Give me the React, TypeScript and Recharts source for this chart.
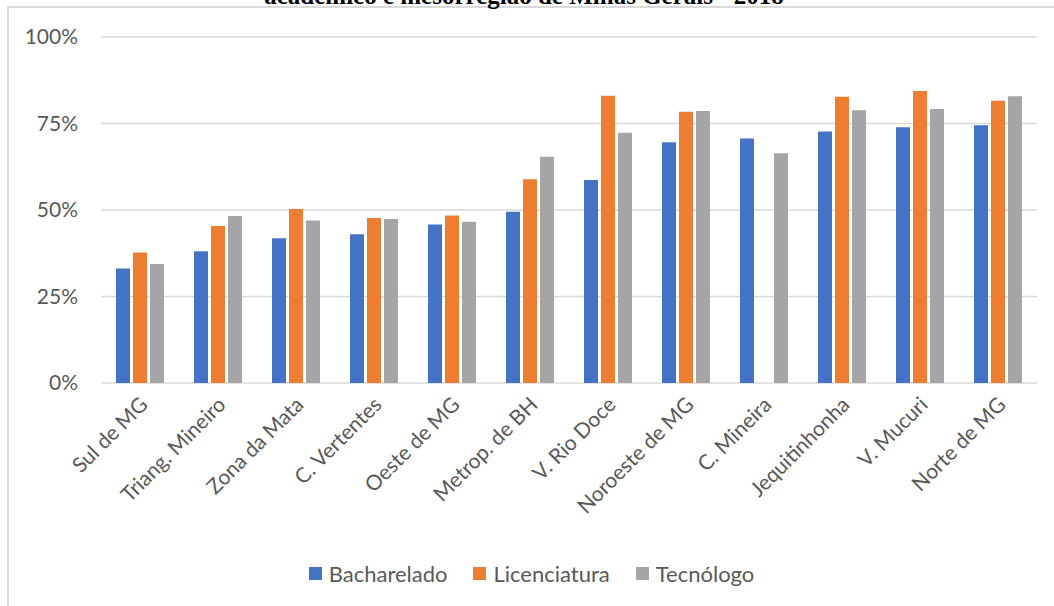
import React from 'react';
import {
    BarChart,
    Bar,
    XAxis,
    YAxis,
    CartesianGrid,
    Legend
} from 'recharts';

const regions = [
    'Sul de MG',
    'Triang. Mineiro',
    'Zona da Mata',
    'C. Vertentes',
    'Oeste de MG',
    'Metrop. de BH',
    'V. Rio Doce',
    'Noroeste de MG',
    'C. Mineira',
    'Jequitinhonha',
    'V. Mucuri',
    'Norte de MG'
];

const bacharelado = [33.1, 38.1, 41.8, 43.0, 45.8, 49.5, 58.7, 69.6, 70.7, 72.7, 73.9, 74.5];
const licenciatura = [37.7, 45.4, 50.3, 47.7, 48.4, 58.9, 83.0, 78.4, null, 82.7, 84.4, 81.6];
const tecnologo = [34.4, 48.3, 47.0, 47.4, 46.6, 65.4, 72.3, 78.6, 66.4, 78.8, 79.2, 82.9];

const yTicks = [0, 25, 50, 75, 100];

const titleText = 'acadêmico e mesorregião de Minas Gerais - 2018';

const series = [
    { key: 'bacharelado', name: 'Bacharelado', color: '#4472C4' },
    { key: 'licenciatura', name: 'Licenciatura', color: '#ED7D31' },
    { key: 'tecnologo', name: 'Tecnólogo', color: '#A5A5A5' }
];

const data = regions.map((region, i) => ({
    region,
    bacharelado: bacharelado[i],
    licenciatura: licenciatura[i],
    tecnologo: tecnologo[i]
}));

const FONT = 'Lato, "Noto Sans", sans-serif';
const TEXT_COLOR = '#595959';
const GRID = '#D9D9D9';

const RegionTick = (props: any) => {
    const { x, y, payload } = props;
    return (
        <g transform={`translate(${x + 9},${y + 15})`}>
            <text
                x={0}
                y={0}
                textAnchor="end"
                transform="rotate(-45)"
                fill={TEXT_COLOR}
                fontSize={21}
                fontFamily={FONT}
            >
                {payload.value}
            </text>
        </g>
    );
};

const LegendContent = () => (
    <div
        style={{
            height: 66,
            display: 'flex',
            alignItems: 'center',
            justifyContent: 'center',
            paddingLeft: 26,
            fontFamily: FONT,
            fontSize: 22,
            color: TEXT_COLOR
        }}
    >
        {series.map((s) => (
            <div key={s.key} style={{ display: 'flex', alignItems: 'center', margin: '0 13px' }}>
                <span style={{ width: 13, height: 13, background: s.color, marginRight: 7 }} />
                <span>{s.name}</span>
            </div>
        ))}
    </div>
);

export default function App() {
    return (
        <div
            style={{
                position: 'absolute',
                left: 0,
                top: 0,
                width: 1054,
                height: 606,
                overflow: 'hidden',
                background: '#fff'
            }}
        >
            <div
                style={{
                    position: 'absolute',
                    left: 7,
                    top: 6,
                    width: 1200,
                    height: 800,
                    border: `2px solid ${GRID}`
                }}
            />
            <svg
                width={1054}
                height={20}
                style={{ position: 'absolute', left: 0, top: 0 }}
            >
                <text
                    x={524}
                    y={4}
                    textAnchor="middle"
                    fontFamily='"Liberation Serif", "Times New Roman", serif'
                    fontWeight="bold"
                    fontSize={25}
                    fill="#000"
                >
                    {titleText}
                </text>
            </svg>
            <div style={{ position: 'absolute', left: 0, top: 0 }}>
                <BarChart
                    width={1054}
                    height={606}
                    data={data}
                    margin={{ top: 37, right: 17, bottom: 0, left: 0 }}
                    barSize={14}
                    barGap={3}
                >
                    <CartesianGrid vertical={false} stroke={GRID} strokeWidth={1.5} />
                    <XAxis
                        dataKey="region"
                        axisLine={false}
                        tickLine={false}
                        interval={0}
                        height={157}
                        tick={<RegionTick />}
                    />
                    <YAxis
                        width={101}
                        domain={[0, 100]}
                        ticks={yTicks}
                        axisLine={false}
                        tickLine={false}
                        tickMargin={17}
                        tickFormatter={(v: number) => `${v}%`}
                        tick={{ fill: TEXT_COLOR, fontSize: 21, fontFamily: FONT }}
                    />
                    <Legend verticalAlign="bottom" content={<LegendContent />} />
                    {series.map((s) => (
                        <Bar
                            key={s.key}
                            dataKey={s.key}
                            name={s.name}
                            fill={s.color}
                            isAnimationActive={false}
                        />
                    ))}
                </BarChart>
            </div>
        </div>
    );
}
